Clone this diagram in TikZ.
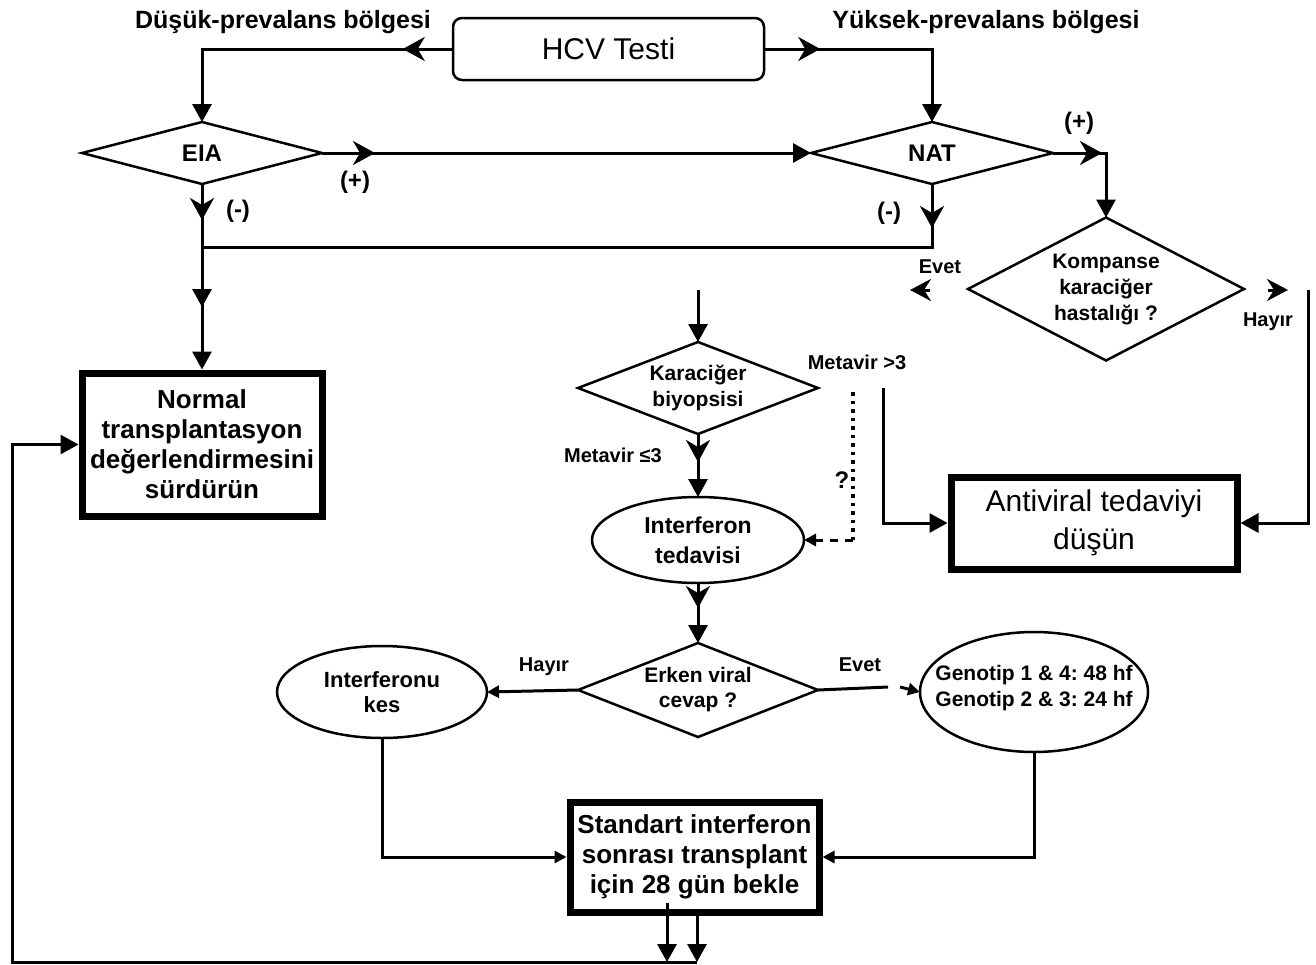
\documentclass[tikz,border=0pt]{standalone}
\usepackage{fontspec}
\setmainfont{Liberation Sans}
\usetikzlibrary{arrows.meta,shapes.geometric,decorations.markings}
\newcommand\myfs[2]{\fontsize{#1pt}{#2pt}\selectfont}
\frenchspacing
\begin{document}
\begin{tikzpicture}[x=1pt,y=-1pt,
  conn/.style={line width=3pt},
  outl/.style={draw, line width=2.5pt, inner sep=0pt, outer sep=0pt},
  dia/.style={outl, diamond},
  ell/.style={outl, ellipse},
  thickbox/.style={draw, line width=7pt, rectangle, inner sep=0pt, align=center},
  big/.style={-{Triangle[length=18pt,width=19pt]}},
  small/.style={-{Triangle[length=12pt,width=12pt]}},
  chev/.style={-{Stealth[length=21pt,width=22pt,inset=7pt]}},
  midarr/.style={postaction={decorate, decoration={markings, mark=at position #1 with {\arrow{Stealth[length=22pt,width=24pt,inset=7pt]}}}}},
  midtri/.style={postaction={decorate, decoration={markings, mark=at position #1 with {\arrow{Triangle[length=18pt,width=19pt]}}}}},
  lab/.style={inner sep=0pt, font=\bfseries\myfs{20}{24}},
  txt/.style={inner sep=0pt, align=center},
]
\useasboundingbox (0,0) rectangle (1316,964);

% nodes
\node[draw, line width=2.5pt, rounded corners=9pt, minimum width=311pt, minimum height=62pt, inner sep=0pt, font=\myfs{30}{34}] (hcv) at (608.5,49) {HCV Testi};
\node[lab, font=\bfseries\myfs{25}{28}] (lowp) at (283,22) {Düşük-prevalans bölgesi};
\node[lab, font=\bfseries\myfs{25}{28}] (highp) at (986,22) {Yüksek-prevalans bölgesi};

\node[dia, minimum width=240pt, minimum height=62pt] (eia) at (202,153) {};
\node[txt, font=\bfseries\myfs{24}{28}] (eiat) at (eia) {EIA};
\node[dia, minimum width=242pt, minimum height=62pt] (nat) at (932,153) {};
\node[txt, font=\bfseries\myfs{24}{28}] (natt) at (nat) {NAT};

\node[dia, minimum width=276pt, minimum height=143pt] (komp) at (1106,289) {};
\node[txt, font=\bfseries\myfs{21}{26}] (kompt) at (komp) {Kompanse\\karaciğer\\hastalığı ?};

\node[thickbox, minimum width=240pt, minimum height=143pt, font=\bfseries\myfs{26}{30}] (normal) at (202,444.5) {Normal\\transplantasyon\\değerlendirmesini\\sürdürün};
\node[thickbox, minimum width=286pt, minimum height=92pt, font=\myfs{30}{38}] (anti) at (1094,523) {Antiviral tedaviyi\\düşün};

\node[dia, minimum width=240pt, minimum height=92pt] (kar) at (698,388) {};
\node[txt, font=\bfseries\myfs{21}{26}] (kart) at (kar) {Karaciğer\\biyopsisi};

\node[ell, minimum width=212pt, minimum height=86pt] (interf) at (698,540) {};
\node[txt, font=\bfseries\myfs{23}{30}] (interft) at (interf) {Interferon\\tedavisi};

\node[dia, minimum width=240pt, minimum height=94pt] (erken) at (698,690) {};
\node[txt, font=\bfseries\myfs{21}{25}] (erkent) at (erken) {Erken viral\\cevap ?};

\node[ell, minimum width=210pt, minimum height=92pt] (kes) at (382,692) {};
\node[txt, font=\bfseries\myfs{22}{25}] (kest) at (kes) {Interferonu\\kes};

\node[ell, minimum width=228pt, minimum height=120pt] (gen) at (1034,692) {};
\node[txt, font=\bfseries\myfs{21}{26}] (gent) at (1034,688) {Genotip 1 \& 4: 48 hf\\Genotip 2 \& 3: 24 hf};

\node[thickbox, minimum width=249pt, minimum height=110pt, font=\bfseries\myfs{26}{30}] (std) at (694.5,857) {Standart interferon\\sonrası transplant\\için 28 gün bekle};

% labels
\node[lab, font=\bfseries\myfs{24}{28}] (p1) at (355,182) {(+)};
\node[lab, font=\bfseries\myfs{24}{28}] (p2) at (1079,123) {(+)};
\node[lab, font=\bfseries\myfs{24}{28}] (m1) at (238,211) {(-)};
\node[lab, font=\bfseries\myfs{24}{28}] (m2) at (889,213) {(-)};
\node[lab] (ev1l) at (940,267) {Evet};
\node[lab] (hy1l) at (1268,322) {Hayır};
\node[lab] (mv1) at (857,362) {Metavir >3};
\node[lab] (mv2) at (613,455) {Metavir ≤3};
\node[lab, font=\bfseries\myfs{24}{28}] (qm) at (842,480) {?};
\node[lab] (hy2l) at (544,667) {Hayır};
\node[lab] (ev2l) at (860,665) {Evet};

% connectors
\draw[conn, big, midarr=49pt] (hcv.west) -| (eia.north);
\draw[conn, big, midarr=55pt] (hcv.east) -| (nat.north);
\draw[conn, big, midarr=53pt] (eia.east) -- (nat.west);
\draw[conn, big, midarr=49pt] (nat.east) -| (komp.north);
\draw[conn, big, midarr=36pt, midtri=123pt] (eia.south) -- (normal.north);
\coordinate (j1) at (202,247);
\draw[conn, midarr=44pt] (nat.south) |- (j1);

\coordinate (evt) at (910,290);
\coordinate (hyr) at (1288,290);
\draw[conn, chev] ([xshift=20pt]evt) -- (evt);
\draw[conn, chev] ([xshift=-20pt]hyr) -- (hyr);

\coordinate (r1) at (1308,290);
\draw[conn, big] (r1) |- (anti.east);
\coordinate (m3) at (883,388);
\draw[conn, big] (m3) |- (anti.west);
\coordinate (d1) at (853,392);
\coordinate (d2) at (853,540);
\draw[line width=3.5pt, dash pattern=on 3.5pt off 5pt] (d1) -- (d2);
\draw[conn, dash pattern=on 8pt off 7pt, small] (d2) -- (interf.east);

\coordinate (k0) at (698,290);
\draw[conn, big] (k0) -- (kar.north);
\draw[conn, big, midarr=28pt] (kar.south) -- (interf.north);
\draw[conn, big, midarr=25pt] (interf.south) -- (erken.north);
\draw[conn, small] (erken.west) -- (kes.east);
\coordinate (ev1) at (888,687);
\coordinate (ev2) at (900,687);
\draw[conn] (erken.east) -- (ev1);
\draw[conn, small] (ev2) -- (gen.west);

\draw[conn, small] (kes.south) |- (std.west);
\draw[conn, small] (gen.south) |- (std.east);

\coordinate (b1) at (667,903);
\coordinate (b1e) at (667,962);
\draw[conn, big] (b1) -- (b1e);
\coordinate (b2e) at (697,962);
\draw[conn, big] ([xshift=2.5pt]std.south) -- (b2e);
\coordinate (lft) at (12,962);
\draw[conn, big] (b2e) -- (lft) |- (normal.west);
\end{tikzpicture}
\end{document}
